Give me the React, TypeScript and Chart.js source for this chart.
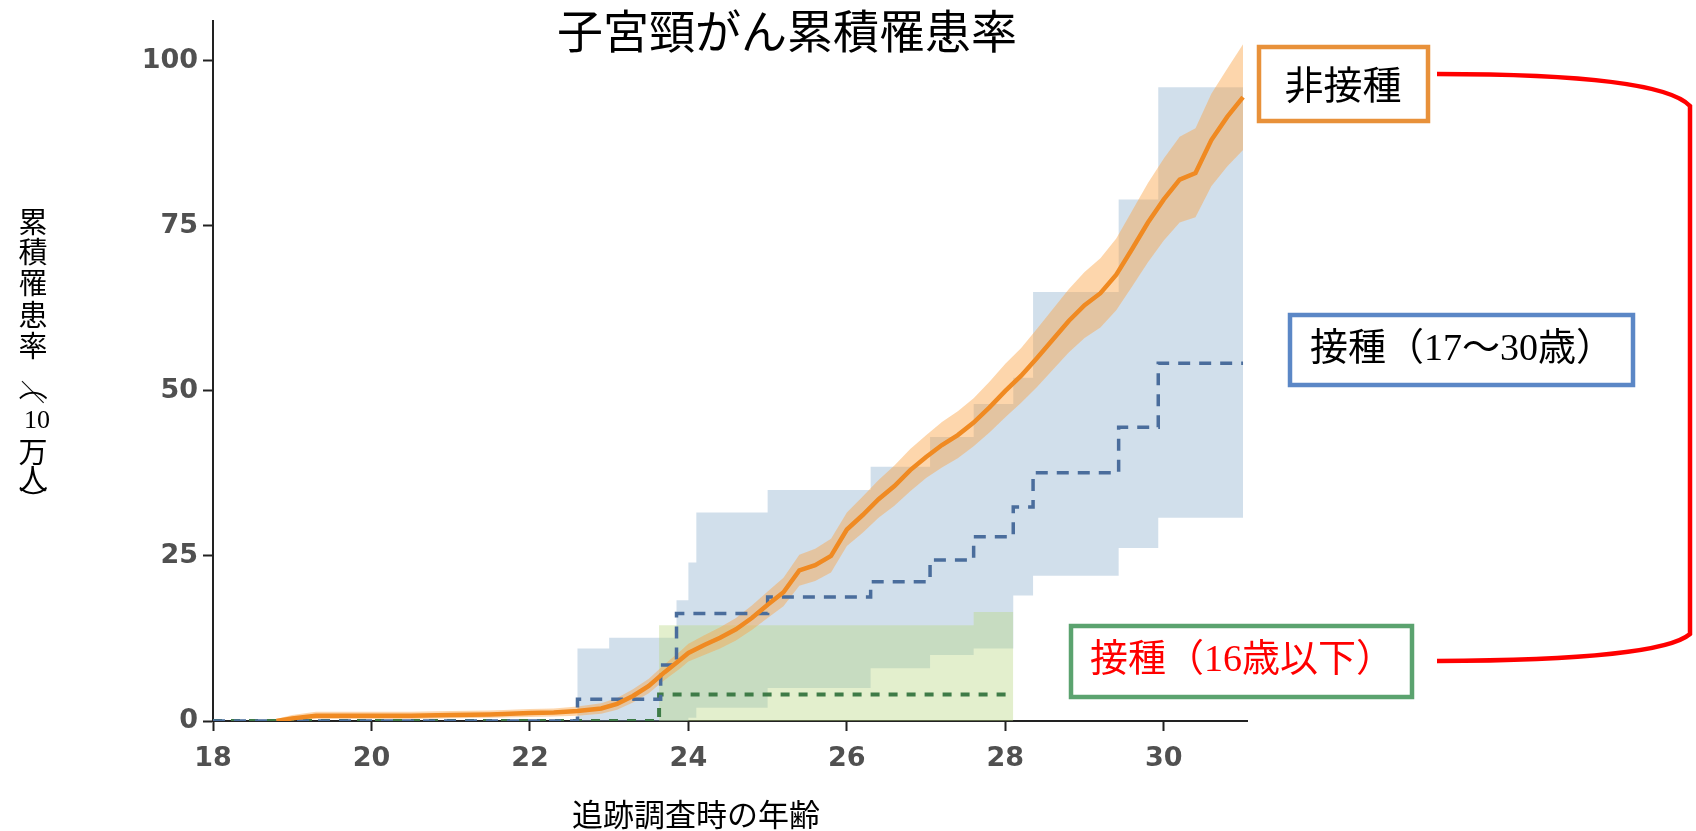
import React, { useEffect, useRef } from "react";
import { Chart, registerables } from "chart.js";

Chart.register(...registerables);

// ---- Axis ticks ----
const xTickValues = [18, 20, 22, 24, 26, 28, 30];
const yTickValues = [0, 25, 50, 75, 100];

// ---- Non-vaccinated (orange): age, cumulative incidence, CI ----
const orangeAge = [18.8, 19.0, 19.3, 19.6, 20.0, 20.5, 21.0, 21.5, 22.0, 22.3, 22.6, 22.9, 23.1, 23.3, 23.5, 23.7, 23.9, 24.0, 24.2, 24.4, 24.6, 24.8, 25.0, 25.2, 25.4, 25.6, 25.8, 26.0, 26.2, 26.4, 26.6, 26.8, 27.0, 27.2, 27.4, 27.6, 27.8, 28.0, 28.2, 28.4, 28.6, 28.8, 29.0, 29.2, 29.4, 29.6, 29.8, 30.0, 30.2, 30.4, 30.6, 30.8, 31.0];
const orangeRate = [0, 0.4, 0.8, 0.8, 0.8, 0.8, 0.9, 1.0, 1.2, 1.3, 1.5, 1.9, 2.6, 3.8, 5.3, 7.4, 9.3, 10.3, 11.5, 12.6, 13.9, 15.6, 17.6, 19.5, 22.8, 23.6, 25.0, 29.0, 31.2, 33.6, 35.6, 38.0, 40.0, 41.8, 43.3, 45.2, 47.5, 50.0, 52.3, 55.0, 57.8, 60.6, 63.0, 64.8, 67.6, 71.5, 75.5, 79.0, 82.0, 83.0, 88.0, 91.5, 94.5];
const orangeLow = [0, 0.1, 0.3, 0.3, 0.3, 0.3, 0.4, 0.5, 0.6, 0.7, 0.8, 1.1, 1.7, 2.8, 4.2, 6.2, 8.0, 9.0, 10.0, 11.0, 12.2, 13.8, 15.6, 17.4, 20.5, 21.2, 22.5, 26.5, 28.5, 30.8, 32.6, 34.8, 36.8, 38.4, 39.8, 41.6, 43.7, 46.0, 48.2, 50.6, 53.2, 55.8, 58.0, 59.6, 62.2, 65.8, 69.5, 72.8, 75.5, 76.3, 81.0, 84.0, 86.5];
const orangeHigh = [0.3, 0.9, 1.4, 1.4, 1.4, 1.4, 1.5, 1.6, 1.8, 1.9, 2.2, 2.7, 3.5, 4.8, 6.4, 8.6, 10.6, 11.7, 13.0, 14.2, 15.6, 17.5, 19.6, 21.7, 25.2, 26.1, 27.6, 31.6, 34.0, 36.5, 38.7, 41.2, 43.3, 45.3, 46.9, 48.9, 51.4, 54.1, 56.5, 59.4, 62.4, 65.4, 68.0, 70.1, 73.1, 77.3, 81.5, 85.2, 88.5, 89.8, 95.0, 98.8, 102.5];

// ---- Vaccinated 17-30 (blue, step) ----
const blueAge = [18, 22.6, 23.65, 23.85, 25.0, 26.3, 27.05, 27.6, 28.1, 28.35, 29.43, 29.93, 31.0];
const blueRate = [0, 3.3, 8.5, 16.3, 18.8, 21.1, 24.4, 27.9, 32.4, 37.6, 44.5, 54.2, 54.2];
const blueBandAge = [18, 22.6, 23.0, 23.85, 24.0, 24.1, 25.0, 26.3, 27.05, 27.6, 28.1, 28.35, 29.43, 29.93, 31.0];
const blueBandLow = [0, 0, 0, 0, 0.5, 2.0, 5.0, 8.0, 10.0, 11.0, 19.0, 22.0, 26.2, 30.8, 30.8];
const blueBandHigh = [0, 11.0, 12.6, 18.3, 24.0, 31.6, 35.0, 38.5, 43.0, 48.0, 52.0, 65.0, 79.0, 96.0, 96.0];

// ---- Vaccinated <=16 (green, step) ----
const greenAge = [18, 23.63, 28.1];
const greenRate = [0, 4.0, 4.0];
const greenBandAge = [18, 23.63, 27.6, 28.1];
const greenBandLow = [0, 0, 0, 0];
const greenBandHigh = [0, 14.5, 16.5, 16.5];

// ---- Texts ----
const chartTitle = "子宮頸がん累積罹患率";
const xAxisTitle = "追跡調査時の年齢";
const legendNonVac = "非接種";
const legendVac1730 = "接種（17〜30歳）";
const legendVac16 = "接種（16歳以下）";

const pts = (xs: number[], ys: number[]) => xs.map((x, i) => ({ x, y: ys[i] }));

const overlay = {
  id: "overlay",
  afterDraw(chart: any) {
    const ctx = chart.ctx as CanvasRenderingContext2D;
    ctx.save();
    ctx.fillStyle = "#000";
    ctx.textAlign = "center";
    ctx.textBaseline = "middle";
    // title
    ctx.font = '46px "Noto Sans CJK JP"';
    ctx.fillText(chartTitle, 787, 31);
    // x title
    ctx.font = '31px "Noto Sans CJK JP"';
    ctx.fillText(xAxisTitle, 696, 814);
    // y title (vertical)
    const yx = 33;
    ctx.font = '29px "Noto Sans CJK JP"';
    const vChars: [string, number][] = [
      ["累", 222], ["積", 252], ["罹", 283], ["患", 315], ["率", 346],
      ["万", 452], ["人", 479],
    ];
    vChars.forEach(([t, y]) => ctx.fillText(t, yx, y));
    const rot = (t: string, x: number, y: number, font: string) => {
      ctx.save();
      ctx.translate(x, y);
      ctx.rotate(Math.PI / 2);
      ctx.font = font;
      ctx.fillText(t, 0, 0);
      ctx.restore();
    };
    rot("（", yx, 386, '29px "Noto Sans CJK JP"');
    rot("／", yx, 392, '24px "Noto Sans CJK JP"');
    rot("）", yx, 500, '29px "Noto Sans CJK JP"');
    ctx.font = '26px "Liberation Serif"';
    ctx.fillText("10", yx + 4, 421);

    // legend boxes
    const box = (x: number, y: number, w: number, h: number, stroke: string) => {
      ctx.fillStyle = "#fff";
      ctx.fillRect(x, y, w, h);
      ctx.strokeStyle = stroke;
      ctx.lineWidth = 4.5;
      ctx.strokeRect(x, y, w, h);
    };
    box(1259, 47, 169, 74, "#E8913A");
    box(1290, 315, 343, 70, "#5B87C6");
    box(1071, 626, 341, 71, "#5BA36F");
    ctx.fillStyle = "#000";
    ctx.font = '39px "Noto Sans CJK JP"';
    ctx.fillText(legendNonVac, 1343, 84);
    ctx.font = '38px "Liberation Serif", "Noto Sans CJK JP"';
    ctx.fillText(legendVac1730, 1462, 350);
    ctx.fillStyle = "#FF0000";
    ctx.fillText(legendVac16, 1242, 661);

    // red bracket
    ctx.strokeStyle = "#FF0000";
    ctx.lineWidth = 4.5;
    ctx.beginPath();
    ctx.moveTo(1437, 74);
    ctx.quadraticCurveTo(1660, 74, 1690, 106);
    ctx.lineTo(1690, 634);
    ctx.quadraticCurveTo(1660, 660, 1437, 661);
    ctx.stroke();
    ctx.restore();
  },
};

export default function App() {
  const ref = useRef<HTMLCanvasElement>(null);
  useEffect(() => {
    const tickFont = { family: '"DejaVu Sans"', size: 27, weight: "bold" as const };
    const chart = new Chart(ref.current!, {
      type: "line",
      data: {
        datasets: [
          {
            label: "非接種",
            data: pts(orangeAge, orangeRate),
            borderColor: "#F08A22",
            borderWidth: 4.5,
            pointRadius: 0,
            fill: false,
          },
          {
            label: "接種17-30",
            data: pts(blueAge, blueRate),
            borderColor: "#4A6D9C",
            borderWidth: 3.5,
            borderDash: [12, 9],
            stepped: "before",
            pointRadius: 0,
            fill: false,
          },
          {
            label: "接種16以下",
            data: pts(greenAge, greenRate),
            borderColor: "#3E7B47",
            borderWidth: 4,
            borderDash: [9, 9],
            stepped: "before",
            pointRadius: 0,
            fill: false,
          },
          {
            label: "orangeLow",
            data: pts(orangeAge, orangeLow),
            borderWidth: 0,
            borderColor: "rgba(0,0,0,0)",
            pointRadius: 0,
            fill: false,
          },
          {
            label: "orangeHigh",
            data: pts(orangeAge, orangeHigh),
            borderWidth: 0,
            borderColor: "rgba(0,0,0,0)",
            backgroundColor: "rgba(250,165,70,0.45)",
            pointRadius: 0,
            fill: "-1",
          },
          {
            label: "greenLow",
            data: pts(greenBandAge, greenBandLow),
            borderWidth: 0,
            borderColor: "rgba(0,0,0,0)",
            stepped: "before",
            pointRadius: 0,
            fill: false,
          },
          {
            label: "greenHigh",
            data: pts(greenBandAge, greenBandHigh),
            borderWidth: 0,
            borderColor: "rgba(0,0,0,0)",
            backgroundColor: "rgba(185,215,130,0.4)",
            stepped: "before",
            pointRadius: 0,
            fill: "-1",
          },
          {
            label: "blueLow",
            data: pts(blueBandAge, blueBandLow),
            borderWidth: 0,
            borderColor: "rgba(0,0,0,0)",
            stepped: "before",
            pointRadius: 0,
            fill: false,
          },
          {
            label: "blueHigh",
            data: pts(blueBandAge, blueBandHigh),
            borderWidth: 0,
            borderColor: "rgba(0,0,0,0)",
            backgroundColor: "rgba(140,175,205,0.4)",
            stepped: "before",
            pointRadius: 0,
            fill: "-1",
          },
        ],
      },
      options: {
        animation: false,
        responsive: false,
        maintainAspectRatio: false,
        layout: { padding: { top: 21, right: 449, left: 0, bottom: 0 } },
        plugins: {
          legend: { display: false },
          tooltip: { enabled: false },
          title: { display: false },
        },
        scales: {
          x: {
            type: "linear",
            min: 18,
            max: 31.05,
            afterBuildTicks: (s: any) => {
              s.ticks = xTickValues.map((v) => ({ value: v }));
            },
            afterFit: (s: any) => {
              s.height = 110;
            },
            grid: { drawOnChartArea: false, drawTicks: true, tickLength: 10, tickColor: "#222", tickWidth: 2 },
            border: { display: true, color: "#222", width: 2 },
            ticks: { color: "#505050", font: tickFont, padding: 12, maxRotation: 0 },
          },
          y: {
            type: "linear",
            min: 0,
            max: 106,
            afterBuildTicks: (s: any) => {
              s.ticks = yTickValues.map((v) => ({ value: v }));
            },
            afterFit: (s: any) => {
              s.width = 213;
            },
            grid: { drawOnChartArea: false, drawTicks: true, tickLength: 10, tickColor: "#222", tickWidth: 2 },
            border: { display: true, color: "#222", width: 2 },
            ticks: { color: "#505050", font: tickFont, padding: 5 },
          },
        },
      },
      plugins: [overlay],
    });
    return () => chart.destroy();
  }, []);
  return (
    <div style={{ position: "absolute", left: 0, top: 0, width: 1696, height: 831, background: "#fff" }}>
      <canvas ref={ref} width={1696} height={831} style={{ display: "block", width: 1696, height: 831 }} />
    </div>
  );
}
